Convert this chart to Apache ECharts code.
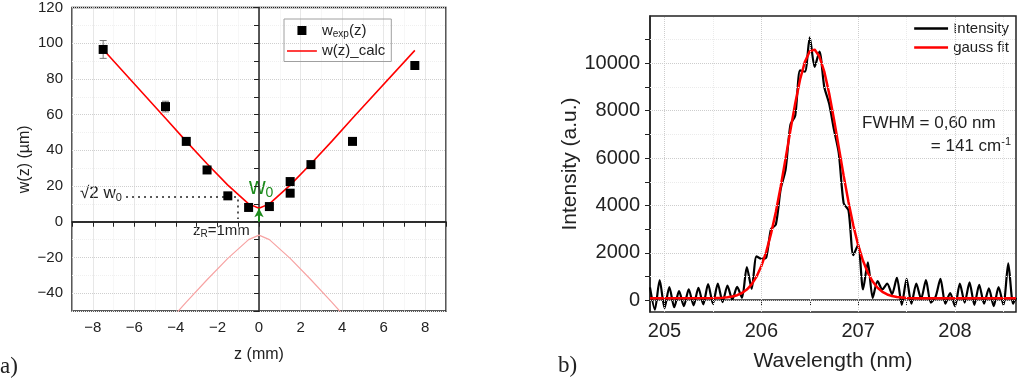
<!DOCTYPE html>
<html>
<head>
<meta charset="utf-8">
<script src="https://cdn.jsdelivr.net/npm/echarts@6/dist/echarts.min.js"></script>
<style>
    html, body { margin: 0; padding: 0; background: #fff; }
    #chart { width: 1017px; height: 388px; }
</style>
</head>
<body>
<div id="chart"></div>
<script>
// ---- panel a) beam waist ----
var zExp = [-7.5, -4.5, -3.5, -2.5, -1.5, -0.5, 0.5, 1.5, 1.5, 2.5, 4.5, 7.5];
var wExp = [96.5, 64.5, 45, 29, 14.5, 8, 8.5, 22.5, 16, 32, 45, 87.5];
var errZ = [-7.5, -4.5];
var errLow = [91.5, 61.5];
var errHigh = [101.5, 67.5];
var zCalc = [-7.5, -4.5, -3.5, -2.5, -1.5, -0.5, 0, 0.5, 1.5, 2.5, 3.5, 4.5, 7.5];
var wCalc = [96.5, 58, 45, 32.5, 20.5, 10, 7.5, 10, 20.5, 32.5, 45, 58, 96];
// annotation anchors (data units)
var sqrt2Line = [[-6.4, 14], [-1, 14]];
var zRLine = [[-1, 12.5], [-1, 1.5]];
var w0Arrow = [[0, 0], [0, 7.5]];

// ---- panel b) spectrum ----
var lambda = [204.85, 204.90, 204.95, 205.00, 205.05, 205.10, 205.15, 205.20, 205.25, 205.30,
    205.35, 205.40, 205.45, 205.50, 205.55, 205.60, 205.65, 205.70, 205.75, 205.80,
    205.85, 205.90, 205.95, 206.00, 206.05, 206.10, 206.15, 206.20, 206.25, 206.30,
    206.35, 206.40, 206.45, 206.50, 206.55, 206.60, 206.65, 206.70, 206.75, 206.80,
    206.85, 206.90, 206.95, 207.00, 207.05, 207.10, 207.15, 207.20, 207.25, 207.30,
    207.35, 207.40, 207.45, 207.50, 207.55, 207.60, 207.65, 207.70, 207.75, 207.80,
    207.85, 207.90, 207.95, 208.00, 208.05, 208.10, 208.15, 208.20, 208.25, 208.30,
    208.35, 208.40, 208.45, 208.50, 208.55, 208.60, 208.63];
var intensity = [540, -400, 850, -330, 550, -300, 380, -250, 460, -220,
    520, -180, 680, -150, 700, -80, 620, 20, 560, 100,
    1400, 480, 1850, 1750, 1800, 3000, 3200, 4700, 5500, 7400,
    7800, 9700, 9650, 11100, 9850, 10500, 9000, 8300, 7200, 6200,
    4100, 3800, 1900, 2350, 450, 1600, 100, 800, 450, 700,
    250, 950, -200, 900, -150, 700, 50, 850, -100, 150,
    900, -150, 300, -250, 700, -100, 750, -200, 650, -150,
    500, -250, 550, -200, 1550, -150, 100];
var lambdaFit = [204.85, 205.50, 205.60, 205.65, 205.70, 205.75, 205.80, 205.85, 205.90, 205.95,
    206.00, 206.05, 206.10, 206.15, 206.20, 206.25, 206.30, 206.35, 206.40, 206.45,
    206.50, 206.55, 206.60, 206.65, 206.70, 206.75, 206.80, 206.85, 206.90, 206.95,
    207.00, 207.05, 207.10, 207.15, 207.20, 207.25, 207.30, 207.35, 207.40, 207.50,
    207.60, 208.63];
var fitValues = [80, 90, 105, 119, 152, 209, 302, 448, 670, 993,
    1442, 2041, 2803, 3729, 4799, 5969, 7170, 8318, 9317, 10071,
    10509, 10583, 10287, 9651, 8741, 7643, 6451, 5259, 4142, 3155,
    2325, 1662, 1156, 787, 527, 353, 241, 172, 130, 95,
    84, 80];

var waveTicks = [205, 205.5, 206, 206.5, 207, 207.5, 208, 208.5];
var waveLabels = [205, 206, 207, 208];
var intTicks = [0, 1000, 2000, 3000, 4000, 5000, 6000, 7000, 8000, 9000, 10000, 11000];
var intLabels = [0, 2000, 4000, 6000, 8000, 10000];

function zip(a, b) {
    return a.map(function (v, i) { return [v, b[i]]; });
}
function minus(v) {
    return v < 0 ? '\u2212' + Math.abs(v) : String(v);
}

var ink = '#222';
var green = '#1e8c1e';
// legend icons: invisible corner dots fix the box so the shape keeps its size
var squareIcon = 'path://M0,0h0.05v0.05h-0.05Z M30,12h0.05v0.05h-0.05Z M10.5,1.5h9v9h-9Z';
var lineIconA = 'path://M0,0h0.05v0.05h-0.05Z M30,12h0.05v0.05h-0.05Z M0,5.2h30v1.6h-30Z';
var lineIconB = 'path://M0,0h0.05v0.05h-0.05Z M34,14h0.05v0.05h-0.05Z M0,5.8h34v2.4h-34Z';

var gridLinesB = [];
waveTicks.forEach(function (v) {
    gridLinesB.push({ xAxis: v, lineStyle: { color: v % 1 === 0 ? '#cdcdcd' : '#ebebeb' } });
});
intTicks.forEach(function (v) {
    gridLinesB.push({ yAxis: v, lineStyle: { color: v % 2000 === 0 ? '#cdcdcd' : '#ebebeb' } });
});

var chart = echarts.init(document.getElementById('chart'));

var option = {
    animation: false,
    textStyle: { fontFamily: 'Liberation Sans, Arial, sans-serif' },
    grid: [
        { left: 72, top: 6, width: 374, height: 305, show: true, borderColor: ink, borderWidth: 1.5 },
        { left: 650, top: 16, width: 366, height: 296, show: true, borderColor: ink, borderWidth: 1.5 }
    ],
    legend: [
        {
            left: 284, top: 19, orient: 'vertical',
            borderColor: '#a0a0a0', borderWidth: 1, borderRadius: 0,
            padding: [4, 6, 3, 3], itemGap: 4, itemWidth: 30, itemHeight: 12,
            data: [
                { name: 'wexp', icon: squareIcon, itemStyle: { color: '#000' } },
                { name: 'wcalc', icon: lineIconA, itemStyle: { color: '#ff0000' } }
            ],
            formatter: function (name) {
                return name === 'wexp' ? '{a|w}{s|exp}{a|(z)}' : '{a|w(z)_calc}';
            },
            textStyle: {
                fontSize: 15, color: ink,
                rich: {
                    a: { fontSize: 15, color: ink },
                    s: { fontSize: 10, color: ink, padding: [8, 0, 0, 0] }
                }
            }
        },
        {
            right: 8, top: 21, orient: 'vertical', align: 'left',
            padding: 0, itemGap: 4, itemWidth: 34, itemHeight: 14,
            data: [
                { name: 'Intensity', icon: lineIconB, itemStyle: { color: '#000' } },
                { name: 'gauss fit', icon: lineIconB, itemStyle: { color: '#ff0000' } }
            ],
            textStyle: { fontSize: 15, color: ink }
        }
    ],
    xAxis: [
        {
            type: 'value', gridIndex: 0, min: -9, max: 9, interval: 1,
            axisLine: { lineStyle: { color: ink, width: 1.5 } },
            axisTick: { length: 5, lineStyle: { color: ink } },
            axisLabel: {
                fontSize: 15, color: ink, margin: 9,
                formatter: function (v) { return v % 2 === 0 ? minus(v) : ''; }
            },
            splitLine: { show: true, lineStyle: { type: 'dotted', color: ['#f0f0f0', '#cfcfcf'] } },
            name: 'z (mm)', nameLocation: 'middle', nameGap: 36,
            nameTextStyle: { fontSize: 16, color: ink }
        },
        {
            type: 'value', gridIndex: 1, min: 204.85, max: 208.63,
            axisLine: { lineStyle: { color: ink, width: 1.5 } },
            axisTick: { length: 5, lineStyle: { color: ink }, customValues: waveTicks },
            axisLabel: {
                fontSize: 20, color: ink, margin: 9, customValues: waveLabels,
                formatter: function (v) { return String(v); }
            },
            splitLine: { show: false },
            name: 'Wavelength (nm)', nameLocation: 'middle', nameGap: 39,
            nameTextStyle: { fontSize: 21, color: ink }
        }
    ],
    yAxis: [
        {
            type: 'value', gridIndex: 0, min: -50, max: 120, interval: 10,
            axisLine: { lineStyle: { color: ink, width: 1.5 } },
            axisTick: { length: 5, lineStyle: { color: ink } },
            axisLabel: {
                fontSize: 15, color: ink, margin: 9,
                formatter: function (v) { return v % 20 === 0 ? minus(v) : ''; }
            },
            splitLine: { show: true, lineStyle: { type: 'dotted', color: ['#f0f0f0', '#cfcfcf'] } },
            name: 'w(z) (\u00b5m)', nameLocation: 'middle', nameGap: 39,
            nameTextStyle: { fontSize: 16, color: ink }
        },
        {
            type: 'value', gridIndex: 1, min: -500, max: 12000,
            axisLine: { lineStyle: { color: ink, width: 1.5 } },
            axisTick: { length: 5, lineStyle: { color: ink }, customValues: intTicks },
            axisLabel: {
                fontSize: 20, color: ink, margin: 10, customValues: intLabels,
                formatter: function (v) { return String(v); }
            },
            splitLine: { show: false },
            name: 'Intensity (a.u.)', nameLocation: 'middle', nameGap: 69,
            nameTextStyle: { fontSize: 21, color: ink }
        }
    ],
    series: [
        {
            name: 'helperA', type: 'line', xAxisIndex: 0, yAxisIndex: 0, data: [], z: 3,
            markLine: {
                silent: true, symbol: 'none', label: { show: false },
                data: [
                    { yAxis: 0, lineStyle: { color: ink, width: 1.5, type: 'solid' } },
                    [{ coord: sqrt2Line[0] }, { coord: sqrt2Line[1], lineStyle: { color: ink, width: 1.5, type: [2, 4] } }],
                    [{ coord: zRLine[0] }, { coord: zRLine[1], lineStyle: { color: ink, width: 1.5, type: [2, 4] } }],
                    [{ coord: w0Arrow[0], symbol: 'none' }, { coord: w0Arrow[1], symbol: 'arrow', symbolSize: [7, 9], lineStyle: { color: green, width: 2, type: 'solid' } }]
                ]
            }
        },
        {
            name: 'mirror', type: 'line', xAxisIndex: 0, yAxisIndex: 0,
            data: zip(zCalc, wCalc.map(function (v) { return -v; })),
            symbol: 'none', lineStyle: { color: '#f7a3a3', width: 1.2 }, z: 3
        },
        {
            name: 'wcalc', type: 'line', xAxisIndex: 0, yAxisIndex: 0,
            data: zip(zCalc, wCalc), symbol: 'none', color: '#ff0000',
            lineStyle: { color: '#ff0000', width: 1.6 }, z: 4
        },
        {
            name: 'errors', type: 'custom', xAxisIndex: 0, yAxisIndex: 0,
            data: errZ.map(function (z, i) { return [z, errLow[i], errHigh[i]]; }),
            encode: { x: 0, y: [1, 2] }, z: 4,
            renderItem: function (params, api) {
                var lo = api.coord([api.value(0), api.value(1)]);
                var hi = api.coord([api.value(0), api.value(2)]);
                var st = { stroke: '#7a7a7a', lineWidth: 1 };
                return {
                    type: 'group',
                    children: [
                        { type: 'line', shape: { x1: lo[0], y1: lo[1], x2: hi[0], y2: hi[1] }, style: st },
                        { type: 'line', shape: { x1: lo[0] - 3.5, y1: lo[1], x2: lo[0] + 3.5, y2: lo[1] }, style: st },
                        { type: 'line', shape: { x1: hi[0] - 3.5, y1: hi[1], x2: hi[0] + 3.5, y2: hi[1] }, style: st }
                    ]
                };
            }
        },
        {
            name: 'wexp', type: 'scatter', xAxisIndex: 0, yAxisIndex: 0,
            data: zip(zExp, wExp), symbol: 'rect', symbolSize: 9,
            itemStyle: { color: '#000', opacity: 1 }, z: 5
        },
        {
            name: 'gridB', type: 'line', xAxisIndex: 1, yAxisIndex: 1, data: [], z: 1,
            markLine: {
                silent: true, symbol: 'none', label: { show: false },
                lineStyle: { type: 'dotted', width: 1 },
                data: gridLinesB
            }
        },
        {
            name: 'Intensity', type: 'line', xAxisIndex: 1, yAxisIndex: 1,
            data: zip(lambda, intensity), symbol: 'none', color: '#000', smooth: 0.25,
            lineStyle: { color: '#000', width: 2.2 }, z: 3
        },
        {
            name: 'gauss fit', type: 'line', xAxisIndex: 1, yAxisIndex: 1,
            data: zip(lambdaFit, fitValues), symbol: 'none', color: '#ff0000',
            lineStyle: { color: '#ff0000', width: 2.5 }, z: 4
        }
    ],
    graphic: [
        {
            type: 'text', left: 80, top: 185,
            style: { text: '{a|\u221a2 w}{s|0}', rich: { a: { fontSize: 17, fill: ink }, s: { fontSize: 11, fill: ink, padding: [9, 0, 0, 0] } } }
        },
        {
            type: 'text', left: 249, top: 176,
            style: { text: '{a|w}{s|0}', rich: { a: { fontSize: 23, fill: green }, s: { fontSize: 14, fill: green, padding: [11, 0, 0, 0] } } }
        },
        {
            type: 'text', left: 193, top: 223,
            style: { text: '{a|z}{s|R}{a|=1mm}', rich: { a: { fontSize: 15, fill: ink }, s: { fontSize: 10, fill: ink, padding: [8, 0, 0, 0] } } }
        },
        {
            type: 'text', left: 0, top: 355,
            style: { text: 'a)', fontSize: 23, fontFamily: 'Liberation Serif', fill: ink }
        },
        {
            type: 'text', left: 558, top: 354,
            style: { text: 'b)', fontSize: 23, fontFamily: 'Liberation Serif', fill: ink }
        },
        {
            type: 'text', left: 862, top: 115,
            style: { text: 'FWHM = 0,60 nm', fontSize: 17, fill: ink }
        },
        {
            type: 'text', right: 6, top: 136,
            style: { text: '{a|= 141 cm}{s|-1}', rich: { a: { fontSize: 17, fill: ink }, s: { fontSize: 11, fill: ink, padding: [0, 0, 9, 0] } } }
        }
    ]
};

chart.setOption(option);
</script>
</body>
</html>
